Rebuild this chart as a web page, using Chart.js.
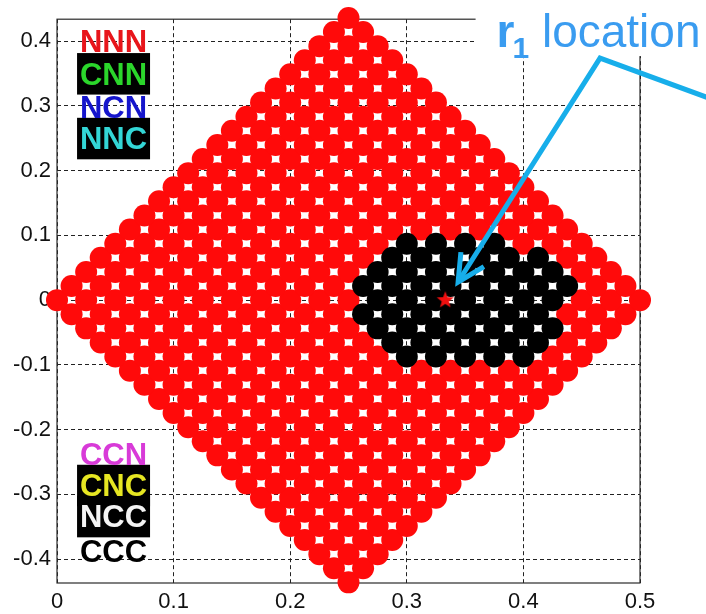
<!DOCTYPE html>
<html>
<head>
<meta charset="utf-8">
<script src="https://cdn.jsdelivr.net/npm/chart.js@4.4.1/dist/chart.umd.min.js"></script>
<style>
  html, body { margin: 0; padding: 0; background: #fff; }
  canvas { display: block; }
</style>
</head>
<body>
<canvas id="c" width="706" height="614"></canvas>
<script>
// Sample lattice: a rhombus of points centred on (0.25, 0)
const centerX = 0.25;
const halfStepX = 0.0125;   // horizontal offset between neighbouring rows
const rowStepY = 0.0218;    // vertical distance between rows
const rowCount = 20;        // rows above (and below) the centre row

// Cells of the black region, per row index: first and last column index
const blackRows  = [4, 3, 2, 1, 0, -1, -2, -3, -4];
const blackFirst = [4, 3, 2, 1, 2, 1, 2, 3, 4];
const blackLast  = [10, 13, 14, 15, 14, 13, 14, 13, 12];

// r1 location
const r1X = [0.333];
const r1Y = [0];

// Axis ticks
const xTicks = [0, 0.1, 0.2, 0.3, 0.4, 0.5];
const yTicks = [-0.4, -0.3, -0.2, -0.1, 0, 0.1, 0.2, 0.3, 0.4];

// Class labels (upper and lower groups)
const topLabels = ['NNN', 'CNN', 'NCN', 'NNC'];
const topLabelY = [0.4, 0.35, 0.299, 0.25];
const topColors = ['#e8151b', '#2bd62b', '#1515cc', '#33d6d6'];
const topBoxed  = [false, true, false, true];

const bottomLabels = ['CCN', 'CNC', 'NCC', 'CCC'];
const bottomLabelY = [-0.238, -0.286, -0.334, -0.388];
const bottomColors = ['#d83ad8', '#e6e622', '#f4f4f4', '#000000'];
const bottomBoxed  = [false, true, true, false];

// Build the two point sets from the lattice
const redPts = [];
const blackPts = [];
for (let j = -rowCount; j <= rowCount; j++) {
  const span = rowCount - Math.abs(j);
  for (let i = -span; i <= span; i += 2) {
    const p = { x: centerX + i * halfStepX, y: j * rowStepY };
    const r = blackRows.indexOf(j);
    if (r >= 0 && i >= blackFirst[r] && i <= blackLast[r]) blackPts.push(p);
    else redPts.push(p);
  }
}

// Filled five-pointed star marker
function makeStar(outer, inner, color) {
  const s = document.createElement('canvas');
  const size = Math.ceil(outer * 2 + 2);
  s.width = size; s.height = size;
  const g = s.getContext('2d');
  g.fillStyle = color;
  g.beginPath();
  for (let k = 0; k < 10; k++) {
    const rad = k % 2 === 0 ? outer : inner;
    const a = -Math.PI / 2 + k * Math.PI / 5;
    const px = size / 2 + rad * Math.cos(a);
    const py = size / 2 + rad * Math.sin(a);
    if (k === 0) g.moveTo(px, py); else g.lineTo(px, py);
  }
  g.closePath();
  g.fill();
  return s;
}
const starImg = makeStar(9, 3.8, '#f01010');

const FONT = 'Liberation Sans, Arial, Helvetica, sans-serif';

const whiteBg = {
  id: 'whiteBg',
  beforeDraw(chart) {
    const ctx = chart.ctx;
    ctx.save();
    ctx.fillStyle = '#ffffff';
    ctx.fillRect(0, 0, chart.width, chart.height);
    ctx.restore();
  }
};

const frame = {
  id: 'frame',
  beforeDatasetsDraw(chart) {
    const { ctx, chartArea: a } = chart;
    ctx.save();
    ctx.strokeStyle = '#2a2a2a';
    ctx.lineWidth = 1.2;
    ctx.strokeRect(a.left, a.top, a.right - a.left, a.bottom - a.top);
    ctx.restore();
  }
};

const overlay = {
  id: 'overlay',
  afterDatasetsDraw(chart) {
    const ctx = chart.ctx;
    const xs = chart.scales.x, ys = chart.scales.y;
    const X = v => xs.getPixelForValue(v);
    const Y = v => ys.getPixelForValue(v);
    const size = 31;
    const boxL = X(0.0172), boxR = X(0.0798), cx = X(0.0485);

    function drawGroup(labels, ys_, colors, boxed) {
      labels.forEach((t, k) => {
        const cy = Y(ys_[k]);
        if (boxed[k]) {
          ctx.fillStyle = '#000';
          ctx.fillRect(boxL, cy - 20.5, boxR - boxL, 41.5);
        }
      });
      labels.forEach((t, k) => {
        const cy = Y(ys_[k]);
        ctx.fillStyle = colors[k];
        ctx.font = 'bold ' + size + 'px ' + FONT;
        ctx.textAlign = 'center';
        ctx.textBaseline = 'alphabetic';
        ctx.fillText(t, cx, cy + size * 0.358);
      });
    }
    ctx.save();
    drawGroup(topLabels, topLabelY, topColors, topBoxed);
    drawGroup(bottomLabels, bottomLabelY, bottomColors, bottomBoxed);

    // Caption area
    ctx.fillStyle = '#ffffff';
    ctx.fillRect(X(0.359), 0, chart.width - X(0.359), Y(0.377));

    // Caption "r1 location"
    const tx = X(0.377), ty = Y(0.391);
    ctx.fillStyle = '#3a9cf0';
    ctx.textAlign = 'left';
    ctx.textBaseline = 'alphabetic';
    ctx.font = 'bold 46px ' + FONT;
    ctx.fillText('r', tx, ty);
    let cur = tx + ctx.measureText('r').width - 2;
    ctx.font = 'bold 30px ' + FONT;
    ctx.fillText('1', cur, ty + 11);
    cur += ctx.measureText('1').width;
    ctx.font = '46px ' + FONT;
    cur += ctx.measureText(' ').width;
    ctx.fillText('location', cur, ty);

    // Leader line and arrow pointing at r1
    const ex = X(0.57), ey = Y(0.305);
    const apx = X(0.4657), apy = Y(0.374);
    const tipx = X(0.344), tipy = Y(0.028);
    ctx.strokeStyle = '#17aeea';
    ctx.lineWidth = 5;
    ctx.lineJoin = 'miter';
    ctx.lineCap = 'butt';
    ctx.beginPath();
    ctx.moveTo(ex, ey);
    ctx.lineTo(apx, apy);
    ctx.lineTo(tipx, tipy);
    ctx.stroke();
    const ang = Math.atan2(apy - tipy, apx - tipx);
    const arm = 30, spread = 27 * Math.PI / 180;
    ctx.beginPath();
    ctx.moveTo(tipx + arm * Math.cos(ang - spread), tipy + arm * Math.sin(ang - spread));
    ctx.lineTo(tipx, tipy);
    ctx.lineTo(tipx + arm * Math.cos(ang + spread), tipy + arm * Math.sin(ang + spread));
    ctx.stroke();
    ctx.restore();
  }
};

const gridOpts = {
  color: '#222222',
  lineWidth: 1,
  borderDash: [4, 3],
  drawTicks: false
};
const tickFont = { family: FONT, size: 22 };

new Chart(document.getElementById('c'), {
  type: 'scatter',
  data: {
    datasets: [
      { label: 'r1', data: r1X.map((v, k) => ({ x: v, y: r1Y[k] })),
        pointStyle: starImg, pointRadius: 9, order: 1, clip: false },
      { label: 'black', data: blackPts, backgroundColor: '#000000',
        pointRadius: 11, pointHoverRadius: 11, borderWidth: 0, order: 2, clip: false },
      { label: 'red', data: redPts, backgroundColor: '#ff0a0a',
        pointRadius: 11, pointHoverRadius: 11, borderWidth: 0, order: 3, clip: false }
    ]
  },
  options: {
    responsive: false,
    animation: false,
    events: [],
    layout: { padding: { top: 19, right: 66, left: 0, bottom: 0 } },
    plugins: { legend: { display: false }, tooltip: { enabled: false } },
    scales: {
      x: {
        type: 'linear', min: 0, max: 0.5,
        afterBuildTicks: s => { s.ticks = xTicks.map(v => ({ value: v })); },
        afterFit: s => { s.height = 31; },
        grid: gridOpts,
        border: { display: false, dash: [4, 3] },
        ticks: { font: tickFont, color: '#111', padding: 6, maxRotation: 0, autoSkip: false,
                 callback: v => String(v) }
      },
      y: {
        type: 'linear', min: -0.437, max: 0.434,
        afterBuildTicks: s => { s.ticks = yTicks.map(v => ({ value: v })); },
        afterFit: s => { s.width = 57; },
        grid: gridOpts,
        border: { display: false, dash: [4, 3] },
        ticks: { font: tickFont, color: '#111', padding: 6, autoSkip: false,
                 callback: v => String(v) }
      }
    }
  },
  plugins: [whiteBg, frame, overlay]
});
</script>
</body>
</html>
